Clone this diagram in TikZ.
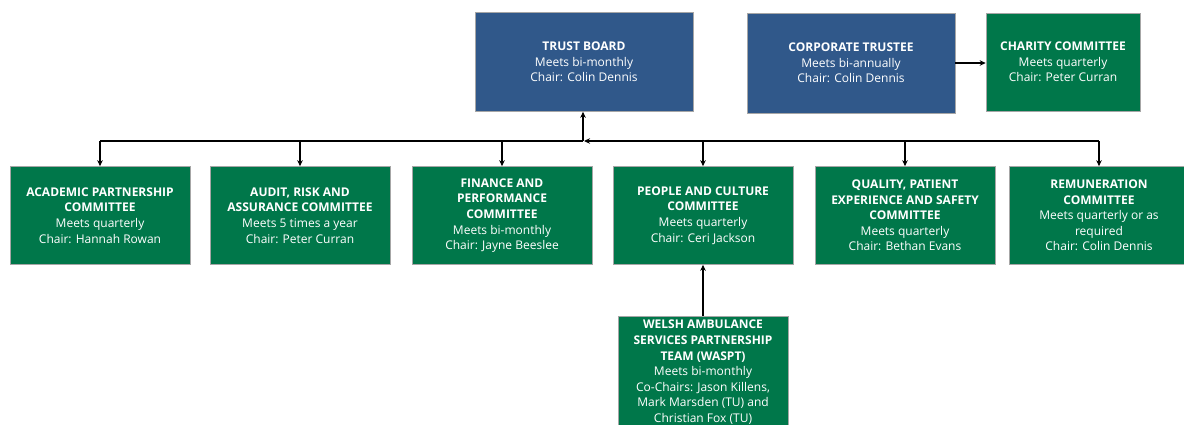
\documentclass[tikz,border=0pt]{standalone}
\usepackage{fontspec}
\setmainfont{Open Sans}
\usepackage{xcolor}
\usetikzlibrary{arrows.meta}
\definecolor{boardblue}{HTML}{30588A}
\definecolor{cttgreen}{HTML}{00774A}
\tikzset{
  box/.style={draw=gray!70, line width=0.6pt, text=white, align=center,
    inner sep=0pt, font=\fontsize{12}{15.6}\selectfont},
  board/.style={box, fill=boardblue},
  cttee/.style={box, fill=cttgreen, minimum width=180pt, minimum height=98pt},
  link/.style={line width=1.3pt},
  arr/.style={link, -{Stealth[length=6pt,width=5.5pt]}}
}
\newcommand{\hd}[1]{\textbf{#1}}
\begin{document}
\begin{tikzpicture}[x=1pt,y=-1pt]
\useasboundingbox[fill=white] (0,0) rectangle (1184,424);
% top row
\node[board, minimum width=218pt, minimum height=99pt] (board) at (584,62)
  {\hd{TRUST BOARD}\\Meets bi-monthly\\Chair: Colin Dennis};
\node[board, minimum width=208pt, minimum height=100pt] (corp) at (851,63)
  {\hd{CORPORATE TRUSTEE}\\Meets bi-annually\\Chair: Colin Dennis};
\node[cttee, minimum width=154pt, minimum height=98pt] (charity) at (1063,62)
  {\hd{CHARITY COMMITTEE}\\Meets quarterly\\Chair: Peter Curran};
% committees
\node[cttee] (acad) at (100,215.5)
  {\hd{ACADEMIC PARTNERSHIP}\\\hd{COMMITTEE}\\Meets quarterly\\Chair: Hannah Rowan};
\node[cttee] (audit) at (300,215.5)
  {\hd{AUDIT, RISK AND}\\\hd{ASSURANCE COMMITTEE}\\Meets 5 times a year\\Chair: Peter Curran};
\node[cttee] (fin) at (502,215.5)
  {\hd{FINANCE AND}\\\hd{PERFORMANCE}\\\hd{COMMITTEE}\\Meets bi-monthly\\Chair: Jayne Beeslee};
\node[cttee] (people) at (703,215.5)
  {\hd{PEOPLE AND CULTURE}\\\hd{COMMITTEE}\\Meets quarterly\\Chair: Ceri Jackson};
\node[cttee] (qual) at (905,215.5)
  {\hd{QUALITY, PATIENT}\\\hd{EXPERIENCE AND SAFETY}\\\hd{COMMITTEE}\\Meets quarterly\\Chair: Bethan Evans};
\node[cttee] (remu) at (1099,215.5)
  {\hd{REMUNERATION}\\\hd{COMMITTEE}\\Meets quarterly or as\\required\\Chair: Colin Dennis};
\node[cttee, minimum width=170pt, minimum height=0pt, inner ysep=4pt, anchor=north] (waspt) at (703,316)
  {\hd{WELSH AMBULANCE}\\\hd{SERVICES PARTNERSHIP}\\\hd{TEAM (WASPT)}\\Meets bi-monthly\\Co-Chairs: Jason Killens,\\Mark Marsden (TU) and\\Christian Fox (TU)};
% connectors
\coordinate (jn) at (583,141);
\draw[arr] (jn) -- (jn |- board.south);
\draw[link] (jn) -- (jn -| acad.north);
\draw[arr] (jn -| remu.north) -- ([xshift=1pt]jn);
\foreach \c in {acad,audit,fin,people,qual,remu}
  \draw[arr] (jn -| \c.north) -- (\c.north);
\draw[arr] (corp.east) -- (corp.east -| charity.west);
\draw[arr] (waspt.north) -- (people.south);
\end{tikzpicture}
\end{document}
